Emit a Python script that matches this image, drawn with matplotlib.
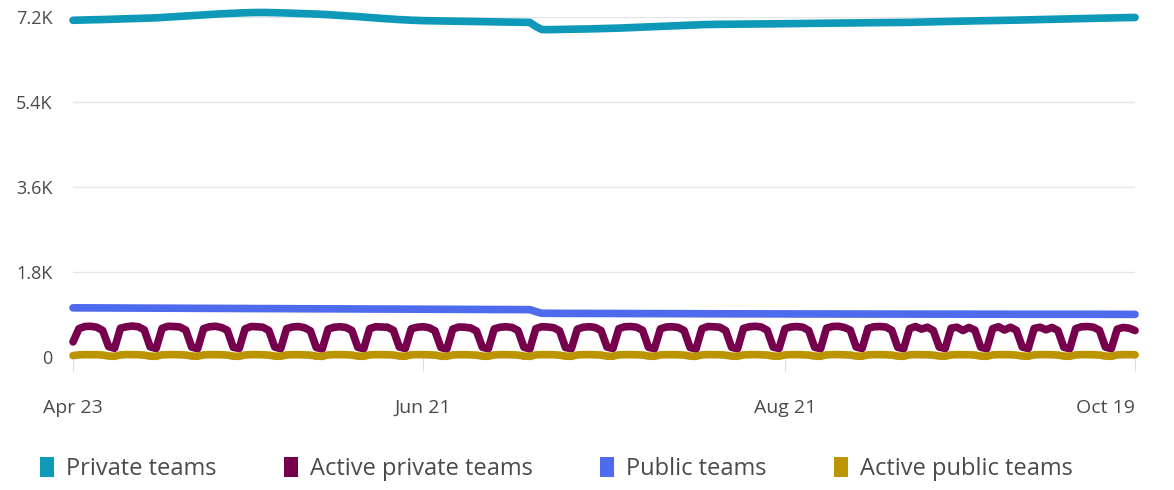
import numpy as np
import pandas as pd
import matplotlib
matplotlib.use("Agg")
import matplotlib.pyplot as plt
from matplotlib.patches import Patch

plt.rcParams['font.family'] = ['Open Sans', 'DejaVu Sans']

# daily values, Apr 23 .. Oct 19
dates = pd.date_range("2019-04-23", "2019-10-19", freq="D")

private_teams = [
    7120, 7124, 7127, 7131, 7133, 7136, 7140,
    7143, 7147, 7151, 7155, 7158, 7162, 7166,
    7172, 7180, 7189, 7198, 7206, 7213, 7222,
    7230, 7238, 7245, 7252, 7258, 7264, 7270,
    7274, 7279, 7283, 7285, 7286, 7284, 7281,
    7278, 7274, 7270, 7266, 7261, 7257, 7252,
    7247, 7240, 7232, 7224, 7216, 7207, 7198,
    7188, 7179, 7170, 7160, 7151, 7143, 7135,
    7128, 7122, 7117, 7113, 7110, 7108, 7106,
    7104, 7101, 7099, 7097, 7095, 7093, 7091,
    7089, 7087, 7085, 7083, 7081, 7079, 7077,
    7075, 6990, 6925, 6922, 6924, 6926, 6928,
    6931, 6933, 6936, 6938, 6941, 6944, 6947,
    6951, 6955, 6960, 6965, 6970, 6975, 6980,
    6985, 6990, 6995, 7000, 7005, 7010, 7016,
    7022, 7028, 7031, 7033, 7035, 7036, 7038,
    7039, 7040, 7042, 7043, 7044, 7045, 7046,
    7047, 7048, 7050, 7051, 7053, 7055, 7056,
    7057, 7059, 7060, 7061, 7063, 7064, 7066,
    7067, 7068, 7069, 7070, 7071, 7072, 7074,
    7075, 7077, 7080, 7082, 7085, 7088, 7091,
    7094, 7097, 7100, 7103, 7105, 7108, 7110,
    7112, 7114, 7115, 7118, 7121, 7124, 7127,
    7130, 7133, 7136, 7139, 7142, 7145, 7148,
    7151, 7154, 7157, 7160, 7163, 7166, 7168,
    7171, 7173, 7175, 7178, 7180,
]

active_private = [
    320, 600, 645, 650, 630, 560, 220,
    185, 610, 640, 655, 640, 575, 215,
    180, 605, 650, 645, 635, 570, 210,
    175, 600, 640, 650, 625, 565, 205,
    180, 595, 645, 640, 630, 560, 210,
    175, 600, 635, 645, 620, 555, 200,
    170, 590, 630, 640, 625, 560, 205,
    175, 600, 640, 635, 630, 565, 210,
    180, 595, 630, 640, 620, 555, 200,
    170, 590, 635, 630, 615, 550, 205,
    175, 595, 630, 640, 625, 560, 205,
    170, 600, 640, 635, 620, 555, 200,
    175, 590, 630, 640, 625, 560, 210,
    180, 600, 640, 645, 630, 565, 205,
    175, 595, 635, 640, 625, 560, 200,
    170, 600, 645, 640, 630, 560, 205,
    175, 605, 640, 650, 635, 565, 210,
    180, 600, 635, 645, 630, 560, 205,
    175, 610, 645, 650, 625, 570, 210,
    180, 605, 640, 645, 635, 565, 205,
    175, 600, 645, 590, 630, 560, 210,
    180, 610, 630, 560, 625, 570, 205,
    175, 600, 640, 570, 630, 565, 210,
    180, 605, 630, 575, 625, 560, 205,
    175, 600, 640, 645, 630, 565, 210,
    175, 590, 625, 610, 560,
]

public_teams = [
    1040, 1040, 1039, 1039, 1038, 1038, 1037,
    1037, 1036, 1036, 1035, 1035, 1034, 1034,
    1033, 1033, 1032, 1032, 1031, 1031, 1030,
    1030, 1029, 1029, 1028, 1028, 1027, 1027,
    1026, 1026, 1025, 1025, 1024, 1024, 1023,
    1023, 1022, 1022, 1021, 1021, 1020, 1020,
    1019, 1019, 1018, 1018, 1017, 1017, 1016,
    1016, 1015, 1015, 1014, 1014, 1013, 1013,
    1012, 1012, 1011, 1011, 1010, 1010, 1009,
    1009, 1008, 1008, 1007, 1007, 1006, 1006,
    1005, 1005, 1004, 1004, 1003, 1003, 1002,
    1002, 960, 925, 924, 924, 923, 923,
    922, 922, 922, 921, 921, 921, 920,
    920, 920, 919, 919, 919, 918, 918,
    918, 917, 917, 917, 916, 916, 916,
    915, 915, 915, 914, 914, 914, 913,
    913, 913, 913, 912, 912, 912, 912,
    911, 911, 911, 911, 910, 910, 910,
    910, 910, 909, 909, 909, 909, 909,
    908, 908, 908, 908, 908, 907, 907,
    907, 907, 907, 907, 906, 906, 906,
    906, 906, 906, 906, 905, 905, 905,
    905, 905, 905, 905, 905, 904, 904,
    904, 904, 904, 904, 904, 904, 903,
    903, 903, 903, 903, 903, 903, 903,
    903, 902, 902, 902, 902,
]

active_public = [
    30, 45, 50, 50, 48, 42, 20,
    15, 45, 52, 50, 48, 40, 18,
    15, 46, 50, 52, 47, 42, 20,
    16, 45, 50, 50, 48, 41, 18,
    15, 44, 50, 51, 47, 40, 19,
    15, 45, 49, 50, 46, 40, 18,
    14, 44, 50, 50, 47, 41, 19,
    15, 45, 51, 50, 48, 42, 20,
    16, 46, 50, 51, 47, 41, 18,
    15, 44, 49, 50, 46, 40, 18,
    15, 45, 50, 50, 47, 41, 19,
    14, 45, 51, 50, 48, 40, 18,
    15, 44, 50, 51, 47, 41, 19,
    16, 46, 50, 50, 48, 42, 20,
    15, 45, 49, 50, 47, 41, 18,
    14, 45, 51, 50, 48, 40, 19,
    15, 46, 50, 52, 48, 42, 20,
    16, 45, 50, 51, 47, 41, 19,
    15, 46, 51, 52, 48, 42, 20,
    16, 45, 50, 51, 48, 41, 19,
    15, 45, 51, 50, 47, 41, 20,
    16, 46, 50, 49, 48, 42, 19,
    15, 45, 50, 50, 47, 41, 20,
    16, 46, 50, 51, 48, 41, 19,
    15, 45, 51, 50, 48, 42, 20,
    15, 44, 50, 50, 47,
]

names = ["Private teams", "Active private teams", "Public teams", "Active public teams"]
colors = ["#0f99b9", "#76004c", "#4f6bed", "#bb9400"]
series = [private_teams, active_private, public_teams, active_public]

fig = plt.figure(figsize=(11.74, 4.9), dpi=100)
ax = fig.add_axes([0.0622, 0.2714, 0.9046, 0.6949])

for vals, c in zip(series, colors):
    ax.plot(dates, vals, color=c, lw=5.5, solid_capstyle='round',
            solid_joinstyle='round', clip_on=False, zorder=3)

ax.set_ylim(0, 7200)
ax.set_xlim(dates[0], dates[-1])
ax.set_yticks([0, 1800, 3600, 5400, 7200])
ax.set_yticklabels(["0", "1.8K", "3.6K", "5.4K", "7.2K"])
ax.grid(axis='y', color='#e6e6e6', lw=1)
ax.set_axisbelow(True)

xt = [pd.Timestamp("2019-04-23"), pd.Timestamp("2019-06-21"),
      pd.Timestamp("2019-08-21"), pd.Timestamp("2019-10-19")]
ax.set_xticks(xt)
ax.set_xticklabels(["Apr 23", "Jun 21", "Aug 21", "Oct 19"])
ax.get_xticklabels()[-1].set_horizontalalignment('right')

for s in ax.spines.values():
    s.set_visible(False)
ax.tick_params(axis='y', length=0, pad=15, labelsize=13, labelcolor='#4a4a4a')
ax.tick_params(axis='x', length=10, color='#dddddd', pad=20, labelsize=14,
               labelcolor='#4a4a4a')

handles = [Patch(facecolor=c, edgecolor='none') for c in colors]
fig.legend(handles, names, loc='center left', bbox_to_anchor=(0.034, 0.043),
           frameon=False, ncol=4, fontsize=17, handlelength=0.6, handleheight=0.9,
           handletextpad=0.5, columnspacing=2.85, borderpad=0, borderaxespad=0,
           labelcolor='#4a4a4a')

fig.savefig("out.png", dpi=100)
